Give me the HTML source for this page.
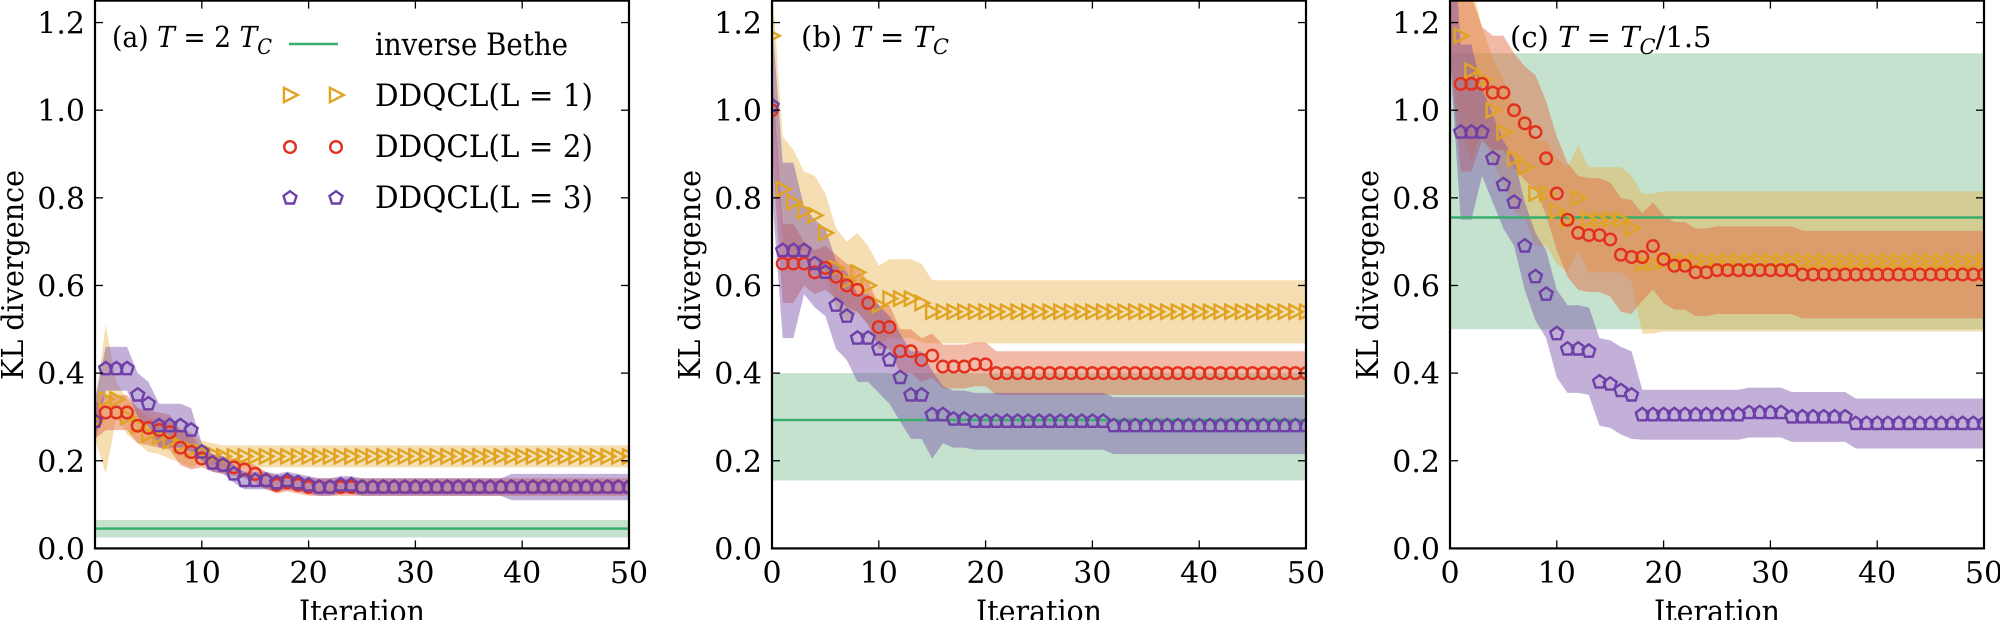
<!DOCTYPE html>
<html><head><meta charset="utf-8">
<style>
html,body{margin:0;padding:0;background:#fff;}
svg text{font-family:"DejaVu Serif","Liberation Serif",serif;fill:#000;}
</style></head>
<body>
<svg id="s" width="2000" height="620" xmlns="http://www.w3.org/2000/svg"></svg>
<script>
let out='';
const W=534, Y0=548.4, K=438.2;
const COL={y:'#e0a422',r:'#e2301d',p:'#6f3fa8',g:'#3aae6c'};
const BAND={y:'rgba(230,176,70,0.42)',r:'rgba(228,100,60,0.45)',p:'rgba(120,80,170,0.45)',g:'rgba(60,160,90,0.3)'};
function fill(a,n){return a.concat(Array(n-a.length).fill(a[a.length-1]));}
const panels=[
 {L:95,
  bethe:[0.045,0.025,0.065],
  y:fill([0.29,0.34,0.34,0.30,0.28,0.26,0.255,0.245,0.235,0.225,0.22,0.215,0.21],51),
  yw:i=>i==1?0.17:(i<10?0.04:0.025),
  r:fill([0.29,0.31,0.31,0.31,0.28,0.275,0.27,0.265,0.23,0.22,0.205,0.195,0.19,0.185,0.18,0.17,0.155,0.145,0.15,0.145,0.14,0.14],51),
  rw:i=>i<10?0.04:0.02,
  p:fill([0.29,0.41,0.41,0.41,0.35,0.33,0.28,0.28,0.28,0.27,0.22,0.195,0.19,0.17,0.155,0.155,0.155,0.15,0.155,0.15,0.145,0.14,0.14,0.145,0.145,0.14],51),
  pw:i=>i<10?0.05:(i>38?0.03:0.02)},
 {L:772,
  bethe:[0.293,0.155,0.40],
  y:fill([1.17,0.82,0.79,0.77,0.76,0.72,0.64,0.61,0.63,0.60,0.555,0.57,0.57,0.57,0.56,0.54],51),
  yw:i=>i<3?0.12:(i<15?0.09:0.072),
  r:fill([1.0,0.65,0.65,0.65,0.63,0.64,0.62,0.60,0.59,0.56,0.505,0.505,0.45,0.45,0.43,0.44,0.415,0.415,0.415,0.42,0.42,0.40],51),
  rw:i=>i<3?0.09:0.05,
  p:fill([1.01,0.68,0.68,0.68,0.65,0.63,0.555,0.53,0.48,0.48,0.455,0.43,0.39,0.35,0.35,0.305,0.305,0.295,0.295,0.29,0.29,0.29,0.29,0.29,0.29,0.29,0.29,0.29,0.29,0.29,0.29,0.29,0.28],51),
  pw:i=>i<3?0.2:(i<16?0.1:0.065)},
 {L:1450,
  bethe:[0.755,0.50,1.13],
  y:fill([1.32,1.17,1.09,1.07,1.0,0.95,0.89,0.87,0.81,0.81,0.77,0.75,0.80,0.75,0.75,0.75,0.75,0.73,0.65,0.65,0.655],51),
  yw:i=>i<3?0.2:(i<18?0.12:0.16),
  r:fill([1.32,1.06,1.06,1.06,1.04,1.04,1.0,0.97,0.95,0.89,0.81,0.75,0.72,0.715,0.715,0.705,0.67,0.665,0.665,0.69,0.66,0.645,0.645,0.63,0.63,0.635,0.635,0.635,0.635,0.635,0.635,0.635,0.635,0.625],51),
  rw:i=>i<3?0.2:(i<18?0.13:0.1),
  p:fill([1.32,0.95,0.95,0.95,0.89,0.83,0.79,0.69,0.62,0.58,0.49,0.455,0.455,0.45,0.38,0.375,0.36,0.35,0.305,0.305,0.305,0.305,0.305,0.305,0.305,0.305,0.305,0.305,0.31,0.31,0.31,0.31,0.30,0.30,0.30,0.30,0.30,0.30,0.285],51),
  pw:i=>i<3?0.2:(i<18?0.1:0.057)}
];
function X(p,i){return p.L+i*W/50;}
function Y(v){return Y0-v*K;}
function tri(x,y,s){return `<polygon points="${x-s*0.55},${y-s*0.65} ${x+s*0.7},${y} ${x-s*0.55},${y+s*0.65}" fill="none" stroke="${COL.y}" stroke-width="2.4"/>`;}
function circ(x,y,r){return `<circle cx="${x}" cy="${y}" r="${r}" fill="none" stroke="${COL.r}" stroke-width="2.4"/>`;}
function pent(x,y,r){let pts=[];for(let k=0;k<5;k++){let a=-Math.PI/2+k*2*Math.PI/5;pts.push((x+r*Math.cos(a)).toFixed(1)+','+(y+r*Math.sin(a)).toFixed(1));}return `<polygon points="${pts.join(' ')}" fill="none" stroke="${COL.p}" stroke-width="2.4"/>`;}
function band(p,arr,wf,c){let up=[],dn=[];for(let i=0;i<=50;i++){let w=wf(i);up.push(X(p,i)+','+Y(arr[i]+w));dn.unshift(X(p,i)+','+Y(arr[i]-w));}return `<polygon points="${up.concat(dn).join(' ')}" fill="${c}"/>`;}
panels.forEach((p,pi)=>{
 out+=`<clipPath id="c${pi}"><rect x="${p.L}" y="0.6" width="${W}" height="${Y0-0.6}"/></clipPath>`;
 out+=`<g clip-path="url(#c${pi})">`;
 out+=`<rect x="${p.L}" y="${Y(p.bethe[2])}" width="${W}" height="${(p.bethe[2]-p.bethe[1])*K}" fill="${BAND.g}"/>`;
 out+=band(p,p.y,p.yw,BAND.y);out+=band(p,p.r,p.rw,BAND.r);out+=band(p,p.p,p.pw,BAND.p);
 out+=`<line x1="${p.L}" x2="${p.L+W}" y1="${Y(p.bethe[0])}" y2="${Y(p.bethe[0])}" stroke="${COL.g}" stroke-width="2.5"/>`;
 for(let i=0;i<=50;i++)out+=tri(X(p,i),Y(p.y[i]),11);
 for(let i=0;i<=50;i++)out+=circ(X(p,i),Y(p.r[i]),5.8);
 for(let i=0;i<=50;i++)out+=pent(X(p,i),Y(p.p[i]),6.8);
 out+=`</g>`;
 out+=`<rect x="${p.L}" y="0.6" width="${W}" height="${Y0-0.6}" fill="none" stroke="#000" stroke-width="2.2"/>`;
 for(let t=0;t<=50;t+=10){let x=X(p,t);
  out+=`<line x1="${x}" x2="${x}" y1="${Y0}" y2="${Y0-8}" stroke="#000" stroke-width="1.3"/><line x1="${x}" x2="${x}" y1="0.6" y2="8.6" stroke="#000" stroke-width="1.3"/>`;
  out+=`<text x="${x}" y="583" font-size="30" text-anchor="middle">${t}</text>`;}
 for(let k=0;k<=6;k++){let v=k*0.2,y=Y(v);
  out+=`<line x1="${p.L}" x2="${p.L+8}" y1="${y}" y2="${y}" stroke="#000" stroke-width="1.3"/><line x1="${p.L+W-8}" x2="${p.L+W}" y1="${y}" y2="${y}" stroke="#000" stroke-width="1.3"/>`;
  out+=`<text x="${p.L-10}" y="${y+11}" font-size="30" text-anchor="end">${v.toFixed(1)}</text>`;}
 out+=`<text x="${p.L+W/2}" y="622" font-size="31" text-anchor="middle" textLength="126" lengthAdjust="spacingAndGlyphs">Iteration</text>`;
 out+=`<text transform="translate(${p.L-72},275) rotate(-90)" font-size="30" text-anchor="middle" textLength="210" lengthAdjust="spacingAndGlyphs">KL divergence</text>`;
});
out+=`<text x="112" y="47" font-size="29" textLength="160" lengthAdjust="spacingAndGlyphs">(a) <tspan font-style="italic">T</tspan> = 2 <tspan font-style="italic">T</tspan><tspan font-style="italic" font-size="21" dy="7">C</tspan></text>`;
out+=`<text x="801" y="47" font-size="29">(b) <tspan font-style="italic">T</tspan> = <tspan font-style="italic">T</tspan><tspan font-style="italic" font-size="21" dy="7">C</tspan></text>`;
out+=`<text x="1510" y="47" font-size="29">(c) <tspan font-style="italic">T</tspan> = <tspan font-style="italic">T</tspan><tspan font-style="italic" font-size="21" dy="7">C</tspan><tspan dy="-7">/1.5</tspan></text>`;
out+=`<line x1="289" x2="338" y1="44" y2="44" stroke="${COL.g}" stroke-width="2.5"/>`;
out+=tri(290,95,11)+tri(336,95,11)+circ(290,147,5.8)+circ(336,147,5.8)+pent(290,198,6.8)+pent(336,198,6.8);
out+=`<text x="375" y="55" font-size="31" textLength="193" lengthAdjust="spacingAndGlyphs">inverse Bethe</text>`;
[1,2,3].forEach((n,k)=>{out+=`<text x="375" y="${106+k*51}" font-size="31" textLength="218" lengthAdjust="spacingAndGlyphs">DDQCL(L = ${n})</text>`;});
document.getElementById('s').innerHTML=out;
</script>
</body></html>
